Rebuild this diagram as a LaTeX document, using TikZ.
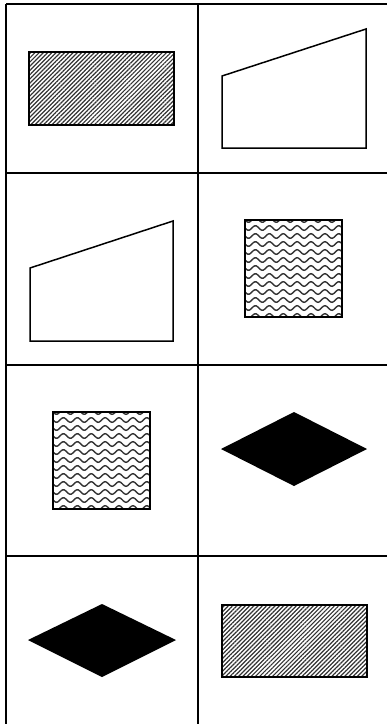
\documentclass[tikz,border=0pt]{standalone}
\usetikzlibrary{patterns.meta}

\begin{document}
\begin{tikzpicture}[x=1pt, y=-1pt,
  gridline/.style ={line width=1.4pt, black},
  outline/.style  ={draw, line width=1.5pt, line join=miter},
  hatched/.style  ={outline, pattern={Lines[angle=45, distance=3pt, line width=1.2pt]},
                    pattern color=black!80},
  waveline/.style ={line width=1.4pt, black!80},
  solidshape/.style={fill=black}
]
\useasboundingbox (0,0) rectangle (387,724);

%%% ---- TABLE GRID (open at right and bottom) ------------------------------
\foreach \gy in {4,173,365,556}
  \draw[gridline] (6,\gy) -- (387,\gy);
\draw[gridline] (6,4)   -- (6,724);
\draw[gridline] (198,4) -- (198,724);

%%% ---- CELL SHAPES ---------------------------------------------------------
% hatched rectangles
\draw[hatched] (29,52)  rectangle (174,125);
\draw[hatched] (222,605) rectangle (367,677);

% sloped-top quadrilaterals
\draw[outline] (222,76) -- (366,29)  -- (366,148) -- (222,148) -- cycle;
\draw[outline] (30,268) -- (173,221) -- (173,341) -- (30,341)  -- cycle;

% wavy squares
\foreach \wx/\wy in {245/220, 53/412} {
  \begin{scope}
    \clip (\wx,\wy) rectangle ++(97,97);
    \foreach \r in {0,...,12}
      \draw[waveline] plot[domain=\wx:\wx+97, samples=70, smooth]
        (\x, {\wy + 8*\r + 2.3*sin((\x-\wx)/13.9*360)});
  \end{scope}
  \draw[outline] (\wx,\wy) rectangle ++(97,97);
}

% black diamonds
\fill[solidshape] (221,449) -- (294,412) -- (367,449) -- (294,486) -- cycle;
\fill[solidshape] (28,640)  -- (102,604) -- (176,640) -- (102,677) -- cycle;

\end{tikzpicture}
\end{document}
